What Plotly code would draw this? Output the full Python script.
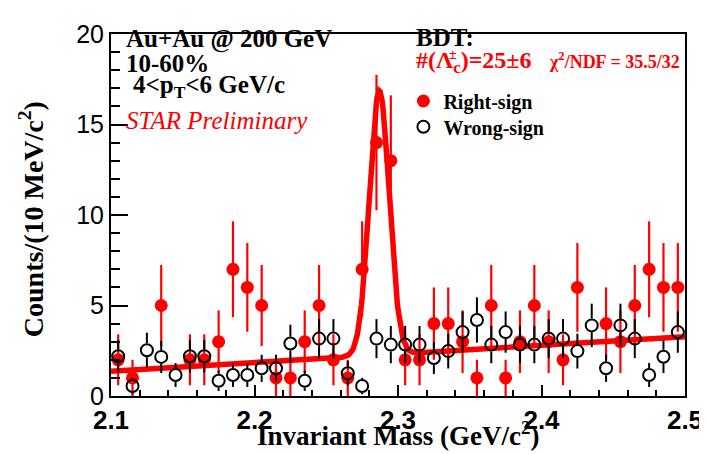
import numpy as np
import plotly.graph_objects as go

# ---------------- data ----------------
mass = [2.105, 2.115, 2.125, 2.135, 2.145, 2.155, 2.165, 2.175, 2.185, 2.195,
        2.205, 2.215, 2.225, 2.235, 2.245, 2.255, 2.265, 2.275, 2.285, 2.295,
        2.305, 2.315, 2.325, 2.335, 2.345, 2.355, 2.365, 2.375, 2.385, 2.395,
        2.405, 2.415, 2.425, 2.435, 2.445, 2.455, 2.465, 2.475, 2.485, 2.495]

right_sign = [2, 1, 0, 5, 0, 2, 2, 3, 7, 6,
              5, 1, 1, 3, 5, 2, 1, 7, 14, 13,
              2, 2, 4, 4, 3, 1, 5, 1, 3, 5,
              3, 2, 6, 0, 4, 3, 5, 7, 6, 6]
right_sign_err = [1.41, 1.0, 0.0, 2.24, 0.0, 1.41, 1.41, 1.73, 2.65, 2.45,
                  2.24, 1.0, 1.0, 1.73, 2.24, 1.41, 1.0, 2.65, 3.74, 3.61,
                  1.41, 1.41, 2.0, 2.0, 1.73, 1.0, 2.24, 1.0, 1.73, 2.24,
                  1.73, 1.41, 2.45, 0.0, 2.0, 1.73, 2.24, 2.65, 2.45, 2.45]

wrong_sign = [2.2, 0.55, 2.53, 2.16, 1.16, 2.2, 2.2, 0.84, 1.16, 1.16,
              1.53, 1.53, 2.9, 0.84, 3.17, 3.17, 1.26, 0.55, 3.17, 2.84,
              2.84, 2.84, 2.1, 2.48, 3.53, 4.2, 2.84, 3.53, 2.84, 2.84,
              3.17, 3.17, 2.48, 3.9, 1.53, 3.9, 3.17, 1.16, 2.17, 3.53]
wrong_sign_err = [0.9, 0.45, 0.97, 0.89, 0.66, 0.9, 0.9, 0.56, 0.66, 0.66,
                  0.75, 0.75, 1.04, 0.56, 1.08, 1.08, 0.68, 0.45, 1.08, 1.03,
                  1.03, 1.03, 0.88, 0.96, 1.14, 1.25, 1.03, 1.14, 1.03, 1.03,
                  1.08, 1.08, 0.96, 1.2, 0.75, 1.2, 1.08, 0.66, 0.9, 1.14]

# fit: gaussian signal + linear background
fit_range = [2.1, 2.5]
fit_bg_at_start = 1.36
fit_bg_slope = 4.8
fit_amp = 14.6
fit_mean = 2.287
fit_sigma = 0.0069

x_ticks = [2.1, 2.2, 2.3, 2.4, 2.5]
x_tick_labels = ["2.1", "2.2", "2.3", "2.4", "2.5"]
y_ticks = [0, 5, 10, 15, 20]
y_tick_labels = ["0", "5", "10", "15", "20"]

# ---------------- styling ----------------
RED = "#ff0000"
SERIF = "Liberation Serif"
SANS = "Liberation Sans"
W, H = 707, 454
ML, MR, MT, MB = 103, 21, 22, 66
PLOT_H = H - MT - MB
Y_MAX = 20.0
BLACK_SIZE = 12

def px_x(p):
    return (p - ML) / (W - ML - MR)

def px_y(p):
    return (H - MB - p) / PLOT_H

fig = go.Figure()

# right-sign points (zero bins not drawn)
rs_y = [v if v > 0 else None for v in right_sign]
rs_e = [e if v > 0 else 0 for v, e in zip(right_sign, right_sign_err)]
fig.add_trace(go.Scatter(
    x=mass, y=rs_y, mode="markers", name="Right-sign",
    marker=dict(color=RED, size=13, symbol="circle"),
    error_y=dict(type="data", array=rs_e, visible=True, color=RED,
                 thickness=2.2, width=0),
    showlegend=True, legend="legend"))

# fit curve
xf = np.linspace(fit_range[0], fit_range[1], 801)
yf = (fit_bg_at_start + fit_bg_slope * (xf - fit_range[0])
      + fit_amp * np.exp(-0.5 * ((xf - fit_mean) / fit_sigma) ** 2))
fig.add_trace(go.Scatter(x=xf, y=yf, mode="lines",
                         line=dict(color=RED, width=5.5),
                         showlegend=False, hoverinfo="skip"))

# wrong-sign error bars, stopping at the marker edge
gap = (BLACK_SIZE / 2 + 1) / (PLOT_H / Y_MAX)
ex, ey = [], []
for xm, v, e in zip(mass, wrong_sign, wrong_sign_err):
    if e > gap:
        ex += [xm, xm, None, xm, xm, None]
        ey += [v + gap, v + e, None, v - gap, v - e, None]
fig.add_trace(go.Scatter(x=ex, y=ey, mode="lines",
                         line=dict(color="black", width=2),
                         showlegend=False, hoverinfo="skip"))
fig.add_trace(go.Scatter(
    x=mass, y=wrong_sign, mode="markers", name="Wrong-sign",
    marker=dict(color="black", size=BLACK_SIZE, symbol="circle-open",
                line=dict(color="black", width=2)),
    showlegend=True, legend="legend2"))

fig.update_xaxes(range=fit_range, tickmode="array", tickvals=x_ticks,
                 ticktext=x_tick_labels, ticks="inside", ticklen=11,
                 tickwidth=2, tickcolor="black", showline=True, linewidth=2,
                 linecolor="black", mirror=True, showgrid=False, zeroline=False,
                 tickfont=dict(family=SANS, size=26, color="black", weight="bold"),
                 minor=dict(ticks="inside", ticklen=6, tickwidth=2,
                            tickcolor="black", dtick=0.02, tick0=2.1,
                            showgrid=False))
fig.update_yaxes(range=[0, Y_MAX], tickmode="array", tickvals=y_ticks,
                 ticktext=y_tick_labels, ticks="inside", ticklen=17,
                 tickwidth=2, tickcolor="black", showline=True, linewidth=2,
                 linecolor="black", mirror=True, showgrid=False, zeroline=False,
                 ticksuffix="\u2009",
                 tickfont=dict(family=SANS, size=25, color="black"),
                 minor=dict(ticks="inside", ticklen=9, tickwidth=2,
                            tickcolor="black", dtick=1, tick0=0,
                            showgrid=False))

ann = []
def text(s, x, y, size, color="black", xanchor="left", yanchor="middle",
         angle=0, family=SERIF):
    ann.append(dict(text=s, x=x, y=y, xref="paper", yref="paper",
                    xanchor=xanchor, yanchor=yanchor, showarrow=False,
                    textangle=angle,
                    font=dict(family=family, size=size, color=color)))

text("<b>Au+Au @ 200 GeV</b>", px_x(116), px_y(27), 25)
text("<b>10-60%</b>", px_x(116), px_y(52), 25)
text("<b>4&lt;p<sub>T</sub>&lt;6 GeV/c</b>", px_x(123), px_y(75), 25)
text("<i>STAR Preliminary</i>", px_x(116), px_y(109), 25, RED)
text("<b>BDT:</b>", px_x(411), px_y(26), 25)
text("<b>#(Λ<sub>c</sub>)=25±6</b>", px_x(411), px_y(50), 24, RED)
text("<b>±</b>", px_x(450), px_y(43), 14, RED, xanchor="center")
text("<b>χ<sup>2</sup>/NDF = 35.5/32</b>", px_x(546), px_y(49), 18, RED)
text("<b>Counts/(10 MeV/c<sup>2</sup>)</b>", px_x(23), px_y(209), 28,
     xanchor="center", angle=-90)
text("<b>Invariant Mass (GeV/c<sup>2</sup>)</b>", px_x(394), px_y(426), 27,
     xanchor="center")

leg_common = dict(xanchor="left", yanchor="top", bgcolor="rgba(0,0,0,0)",
                  borderwidth=0, itemsizing="trace",
                  font=dict(family=SERIF, size=20, color="black", weight="bold"))

fig.update_layout(
    width=W, height=H, margin=dict(l=ML, r=MR, t=MT, b=MB),
    paper_bgcolor="white", plot_bgcolor="white",
    annotations=ann,
    legend=dict(x=px_x(400), y=px_y(70), **leg_common),
    legend2=dict(x=px_x(400), y=px_y(96), **leg_common),
)

fig.write_html("out.html")
